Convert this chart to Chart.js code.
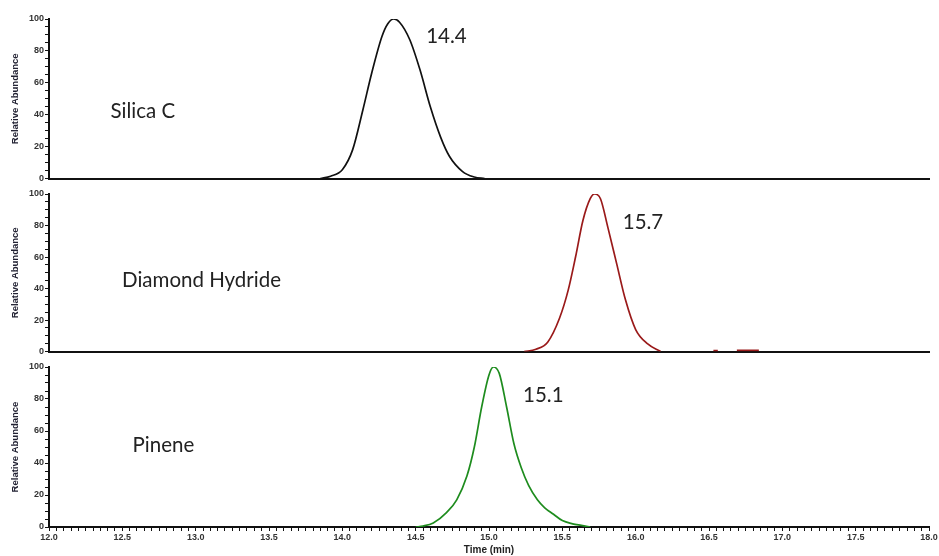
<!DOCTYPE html>
<html>
<head>
<meta charset="utf-8">
<script src="https://cdn.jsdelivr.net/npm/chart.js@4.4.1/dist/chart.umd.min.js"></script>
<style>
  body { margin: 0; background: #fff; }
  #wrap { position: relative; width: 939px; height: 556px; }
  #wrap canvas { position: absolute; left: 0; }
</style>
</head>
<body>
<div id="wrap">
  <canvas id="panel-silica" width="939" height="185" style="top:0"></canvas>
  <canvas id="panel-diamond" width="939" height="173" style="top:185px"></canvas>
  <canvas id="panel-pinene" width="939" height="198" style="top:358px"></canvas>
</div>
<script>
// retention times (min) and relative abundance
const panelNames = ['Silica C', 'Diamond Hydride', 'Pinene'];
const peakLabels = ['14.4', '15.7', '15.1'];

const silicaTimes = [13.85, 13.92, 14.00, 14.07, 14.14, 14.20, 14.27, 14.31, 14.35, 14.39, 14.46, 14.53, 14.60, 14.67, 14.73, 14.82, 14.90, 14.97];
const silicaValues = [0, 1.5, 5.6, 18, 43, 66, 89, 97, 100, 98, 87, 68, 45, 26, 14, 4.4, 1, 0];

const diamondTimes = [15.24, 15.32, 15.40, 15.48, 15.54, 15.59, 15.64, 15.69, 15.72, 15.76, 15.81, 15.87, 15.93, 16.00, 16.08, 16.17, null, 16.53, 16.56, null, 16.69, 16.84];
const diamondValues = [0, 1.5, 6, 21, 39, 60, 83, 97, 100, 97, 79, 56, 33, 14, 5, 0, null, 0.6, 0.6, null, 0.8, 0.8];

const pineneTimes = [14.50, 14.55, 14.62, 14.71, 14.78, 14.85, 14.90, 14.95, 15.00, 15.03, 15.07, 15.12, 15.17, 15.22, 15.27, 15.33, 15.38, 15.44, 15.50, 15.57, 15.63, 15.69];
const pineneValues = [0, 0.6, 2.5, 9, 17, 32, 50, 75, 95, 100, 96, 75, 52, 37, 26, 17, 12, 8, 4, 2, 1, 0];

const xMin = 12.0;
const xMax = 18.0;

const smallFont = '"Liberation Sans", Arial, sans-serif';

function toPoints(times, values) {
  return times.map((t, i) => (t === null ? { x: NaN, y: null } : { x: t, y: values[i] }));
}

// draws the sample name and the peak time as plain text in data coordinates
const textLabels = {
  id: 'textLabels',
  afterDatasetsDraw(chart, args, opts) {
    const { ctx } = chart;
    const xs = chart.scales.x;
    const ys = chart.scales.y;
    ctx.save();
    ctx.font = '20.5px Lato, "Open Sans", sans-serif';
    ctx.fillStyle = '#222';
    ctx.textAlign = 'center';
    ctx.textBaseline = 'middle';
    for (const item of opts.items || []) {
      ctx.fillText(item.text, xs.getPixelForValue(item.x), ys.getPixelForValue(item.y));
    }
    ctx.restore();
  },
};

function makePanel(canvasId, points, color, labels, padding, isBottom) {
  return new Chart(document.getElementById(canvasId), {
    type: 'line',
    data: {
      datasets: [
        {
          data: points,
          borderColor: color,
          borderWidth: 1.7,
          pointRadius: 0,
          cubicInterpolationMode: 'monotone',
          spanGaps: false,
          fill: false,
        },
      ],
    },
    options: {
      responsive: false,
      animation: false,
      layout: { padding: padding },
      plugins: {
        legend: { display: false },
        tooltip: { enabled: false },
        textLabels: { items: labels },
      },
      scales: {
        x: {
          type: 'linear',
          min: xMin,
          max: xMax,
          afterFit: (scale) => {
            if (isBottom) scale.height = 29;
          },
          border: { color: '#111', width: 2 },
          grid: {
            display: true,
            drawOnChartArea: false,
            drawTicks: isBottom,
            tickLength: 4,
            color: '#111',
          },
          ticks: {
            display: isBottom,
            stepSize: 0.05,
            autoSkip: false,
            maxRotation: 0,
            maxTicksLimit: 200,
            padding: 1,
            color: '#333',
            font: { size: 9, weight: 'bold', family: smallFont },
            callback: (v) => (Math.abs(v * 2 - Math.round(v * 2)) < 1e-6 ? Number(v).toFixed(1) : ''),
          },
          title: {
            display: isBottom,
            text: 'Time (min)',
            color: '#222',
            padding: { top: 1, bottom: 0 },
            font: { size: 10, weight: 'bold', family: smallFont },
          },
        },
        y: {
          min: 0,
          max: 100,
          afterFit: (scale) => {
            scale.width = 49;
          },
          border: { color: '#111', width: 2 },
          grid: { drawOnChartArea: false, tickLength: 4, color: '#111' },
          ticks: {
            stepSize: 5,
            autoSkip: false,
            padding: 1,
            color: '#333',
            font: { size: 9, weight: 'bold', family: smallFont },
            callback: (v) => (v % 20 === 0 ? String(v) : ''),
          },
          title: {
            display: true,
            text: 'Relative Abundance',
            color: '#223',
            padding: { top: 10, bottom: 0 },
            font: { size: 9.5, weight: 'bold', family: smallFont },
          },
        },
      },
    },
    plugins: [textLabels],
  });
}

makePanel(
  'panel-silica',
  toPoints(silicaTimes, silicaValues),
  '#111',
  [
    { text: panelNames[0], x: 12.64, y: 42 },
    { text: peakLabels[0], x: 14.71, y: 89 },
  ],
  { top: 19, right: 10, bottom: 5, left: 0 },
  false
);

makePanel(
  'panel-diamond',
  toPoints(diamondTimes, diamondValues),
  '#9a1a1a',
  [
    { text: panelNames[1], x: 13.04, y: 45 },
    { text: peakLabels[1], x: 16.05, y: 82 },
  ],
  { top: 9, right: 10, bottom: 3, left: 0 },
  false
);

makePanel(
  'panel-pinene',
  toPoints(pineneTimes, pineneValues),
  '#1e8c1e',
  [
    { text: panelNames[2], x: 12.78, y: 51 },
    { text: peakLabels[2], x: 15.37, y: 82.5 },
  ],
  { top: 9, right: 10, bottom: 0, left: 0 },
  true
);
</script>
</body>
</html>
